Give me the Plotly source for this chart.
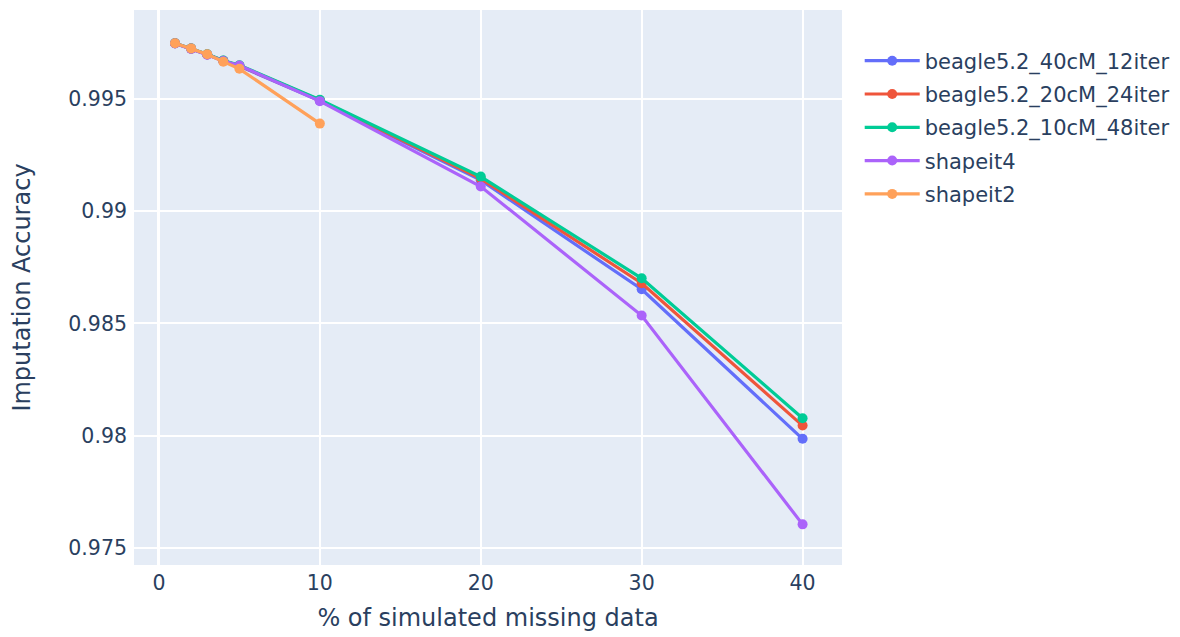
import plotly.graph_objects as go

# % of simulated missing data
missing_pct = [1, 2, 3, 4, 5, 10, 20, 30, 40]
missing_pct_shapeit2 = [1, 2, 3, 4, 5, 10]

# Imputation accuracy per method
beagle_40cM_12iter = [0.99748, 0.99724, 0.99698, 0.99670, 0.99646, 0.99492, 0.99138, 0.98652, 0.97986]
beagle_20cM_24iter = [0.99748, 0.99724, 0.99698, 0.99670, 0.99648, 0.99494, 0.99145, 0.98679, 0.98045]
beagle_10cM_48iter = [0.99748, 0.99725, 0.99699, 0.99671, 0.99650, 0.99496, 0.99154, 0.98701, 0.98078]
shapeit4 = [0.99747, 0.99723, 0.99697, 0.99669, 0.99649, 0.99490, 0.99110, 0.98535, 0.97605]
shapeit2 = [0.99748, 0.99725, 0.99699, 0.99666, 0.99634, 0.99390]

series = [
    ("beagle5.2_40cM_12iter", missing_pct, beagle_40cM_12iter, "#636efa"),
    ("beagle5.2_20cM_24iter", missing_pct, beagle_20cM_24iter, "#EF553B"),
    ("beagle5.2_10cM_48iter", missing_pct, beagle_10cM_48iter, "#00cc96"),
    ("shapeit4", missing_pct, shapeit4, "#ab63fa"),
    ("shapeit2", missing_pct_shapeit2, shapeit2, "#FFA15A"),
]

fig = go.Figure()
for name, xs, ys, color in series:
    fig.add_trace(go.Scatter(
        x=xs, y=ys, name=name, legendgroup=name, mode="lines+markers",
        line=dict(color=color, width=3.2),
        marker=dict(color=color, size=10),
    ))

FONT = "DejaVu Sans"

fig.update_layout(
    template="plotly",
    width=1180, height=637,
    margin=dict(l=134, r=338, t=10, b=72, autoexpand=False),
    font=dict(family=FONT, size=20.5, color="#2a3f5f"),
    legend=dict(x=1.025, y=0.945, xanchor="left", yanchor="top", itemwidth=55,
                font=dict(family=FONT, size=21), tracegroupgap=3),
    xaxis=dict(
        title=dict(text="% of simulated missing data", font=dict(size=24)),
        automargin=False, ticklabelstandoff=3,
        range=[-1.55, 42.45], dtick=10, tick0=0,
        gridwidth=2, zerolinewidth=3,
    ),
    yaxis=dict(
        title=dict(text="Imputation Accuracy", font=dict(size=24), standoff=30),
        ticklabelstandoff=6,
        range=[0.97424, 0.99896], dtick=0.005, tick0=0.975,
        gridwidth=2, zerolinewidth=3,
    ),
)

fig.write_html("out.html")
